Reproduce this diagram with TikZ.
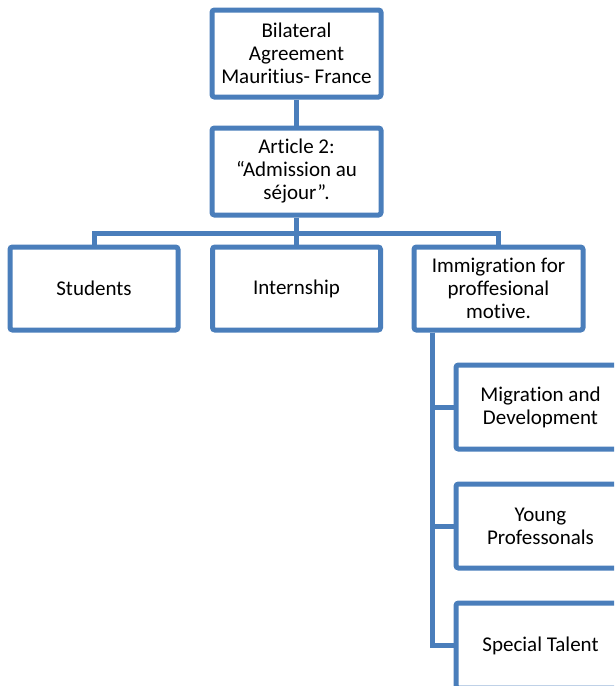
\documentclass[tikz,border=0pt]{standalone}
\usepackage{fontspec}
\setmainfont[Ligatures=CommonOff]{Carlito}
\definecolor{boxblue}{RGB}{74,126,187}
\begin{document}
\begin{tikzpicture}[x=1pt,y=-1pt,
  box/.style={draw=boxblue, line width=5pt, rounded corners=2.5pt, fill=white, align=center,
    font=\fontsize{21}{23}\selectfont, inner sep=0pt},
  conn/.style={draw=boxblue, line width=5pt}]
\clip (0,0) rectangle (614,686);
\useasboundingbox (0,0) rectangle (614,686);
\coordinate (bus) at (296.5,233);
\node[box, minimum width=169pt, minimum height=87pt] (b1) at (296.5,53.5) {Bilateral\\Agreement\\Mauritius- France};
\node[box, minimum width=169pt, minimum height=87pt] (b2) at (296.5,171.5) {Article 2:\\“Admission au\\séjour”.};
\node[box, minimum width=168pt, minimum height=83pt] (st) at (94,288.5) {Students};
\node[box, minimum width=168pt, minimum height=83pt] (in) at (296.5,288.5) {Internship};
\node[box, minimum width=169pt, minimum height=83pt] (im) at (498.5,288.5) {Immigration for\\proffesional\\motive.};
\node[box, minimum width=169pt, minimum height=84pt] (mi) at (540.5,407) {Migration and\\Development};
\node[box, minimum width=169pt, minimum height=84pt] (yp) at (540.5,526) {Young\\Professonals};
\node[box, minimum width=169pt, minimum height=85pt] (sp) at (540.5,645.5) {Special Talent};
\draw[conn] (b1.south) -- (b2.north);
\draw[conn] (b2.south) -- (in.north);
\draw[conn] (st.north) |- (bus) -| (im.north);
\draw[conn] ([xshift=-66.5pt]im.south) |- (mi.west);
\draw[conn] ([xshift=-66.5pt]im.south) |- (yp.west);
\draw[conn] ([xshift=-66.5pt]im.south) |- (sp.west);
\end{tikzpicture}
\end{document}
